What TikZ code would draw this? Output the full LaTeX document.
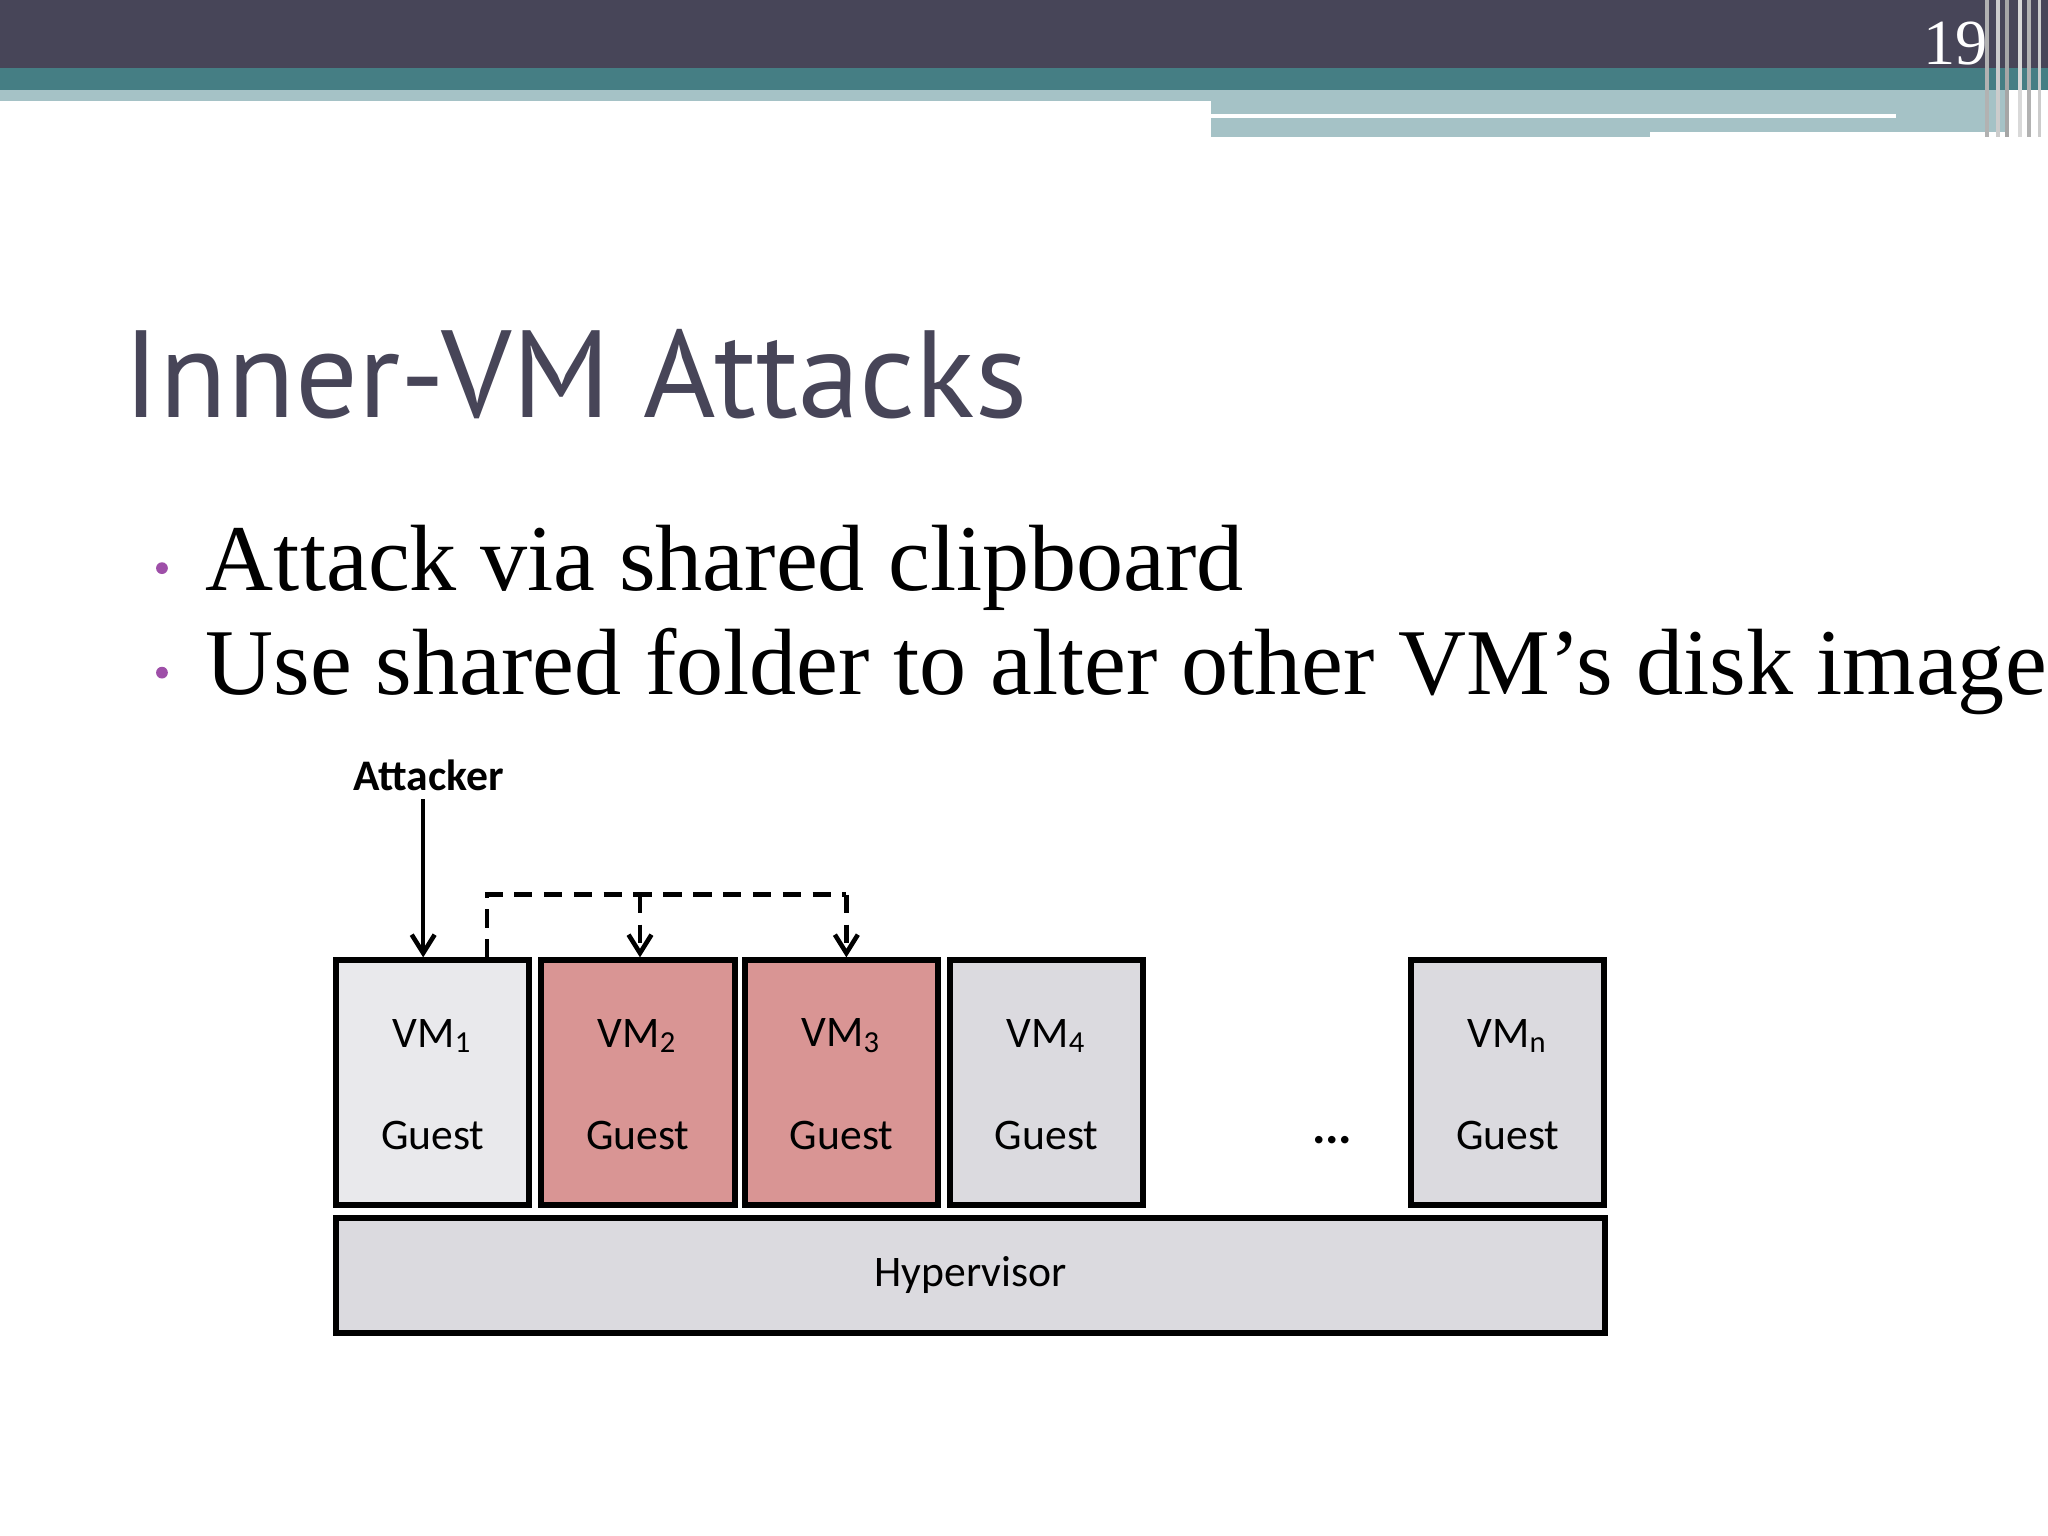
\documentclass[tikz,border=0pt]{standalone}
\usepackage{fontspec}
\setmainfont{Liberation Serif}
\newfontfamily\carl{Carlito}
\newfontfamily\ttl{PT Sans}
\usetikzlibrary{arrows.meta}
\definecolor{dark}{HTML}{474558}
\definecolor{teal}{HTML}{457E84}
\definecolor{lite}{HTML}{A5C2C6}
\definecolor{vmg}{HTML}{DBDADF}
\definecolor{vmr}{HTML}{D99594}
\definecolor{bul}{HTML}{9E4FA8}
\begin{document}
\begin{tikzpicture}[x=0.01cm,y=-0.01cm,
 vm/.style={draw=black,line width=1.3pt,fill=vmg,minimum width=1.48cm,minimum height=1.87cm,anchor=north west,inner sep=0pt},
 lab/.style={font=\carl\fontsize{9.5}{11}\selectfont},
 arr/.style={-{Straight Barb[length=4pt,width=5pt]},line width=1pt}]
\useasboundingbox (0,0) rectangle (1568,1176);
\fill[white] (0,0) rectangle (1568,1176);
% header
\fill[dark] (0,0) rectangle (1568,52);
\fill[teal] (0,52) rectangle (1568,69);
\fill[lite] (0,69) rectangle (927,77);
\fill[lite] (927,69) rectangle (1535,105);
\fill[white] (927,87) rectangle (1452,90);
\fill[white] (1263,101) rectangle (1535,105);
\foreach \x/\c in {1520/gray!60,1528/gray!40,1535/gray!70,1545/gray!30,1552/gray!60,1560/gray!40}
  \fill[\c] (\x,0) rectangle ++(3,105);
\node[text=white,font=\fontsize{14}{16}\selectfont] (pg) at (1497,33) {19};
% title
\node[anchor=base west,text=dark,font=\ttl\fontsize{27}{30}\selectfont,inner sep=0pt] (title) at (94,320) {Inner-VM Attacks};
\node[anchor=base west,font=\fontsize{20.5}{24}\selectfont,inner sep=0pt] (b1) at (157,452) {Attack via shared clipboard};
\node[anchor=base west,font=\fontsize{20.5}{24}\selectfont,inner sep=0pt] (b2) at (157,532) {Use shared folder to alter other VM’s disk image};
\fill[bul] (124,435) circle (4.5);
\fill[bul] (124,515) circle (4.5);
% diagram
\node[vm,fill=vmg!60] (v1) at (255,733) {};
\node[vm,fill=vmr] (v2) at (412,733) {};
\node[vm,fill=vmr] (v3) at (568,733) {};
\node[vm] (v4) at (725,733) {};
\node[vm] (vn) at (1078,733) {};
\node[vm,minimum width=9.71cm,minimum height=0.88cm] (hyp) at (255,930) {};
\node[lab] at (hyp.center) {Hypervisor};
\foreach \n/\s in {v1/1,v2/2,v3/3,v4/4,vn/n}{
  \node[lab] at ([yshift=-0.6cm]\n.north) {VM\textsubscript{\s}};
  \node[lab] at ([yshift=-1.36cm]\n.north) {Guest};
}
\node[lab,font=\carl\bfseries\fontsize{9.5}{11}\selectfont] (att) at (328,594) {Attacker};
\node[lab,font=\carl\bfseries\fontsize{11}{11}\selectfont] (dots) at (1020,873) {...};
\coordinate (a0) at (324,612);
\draw[arr] (a0) -- (324,733);
\coordinate (s) at (373,733);
\draw[line width=1pt,dash pattern=on 4pt off 2.5pt] (s) -- (373,685) -- (648,685);
\draw[arr,dash pattern=on 4pt off 2.5pt] (490,685) -- (490,733);
\draw[arr,dash pattern=on 4pt off 2.5pt] (648,685) -- (648,733);
\end{tikzpicture}
\end{document}
